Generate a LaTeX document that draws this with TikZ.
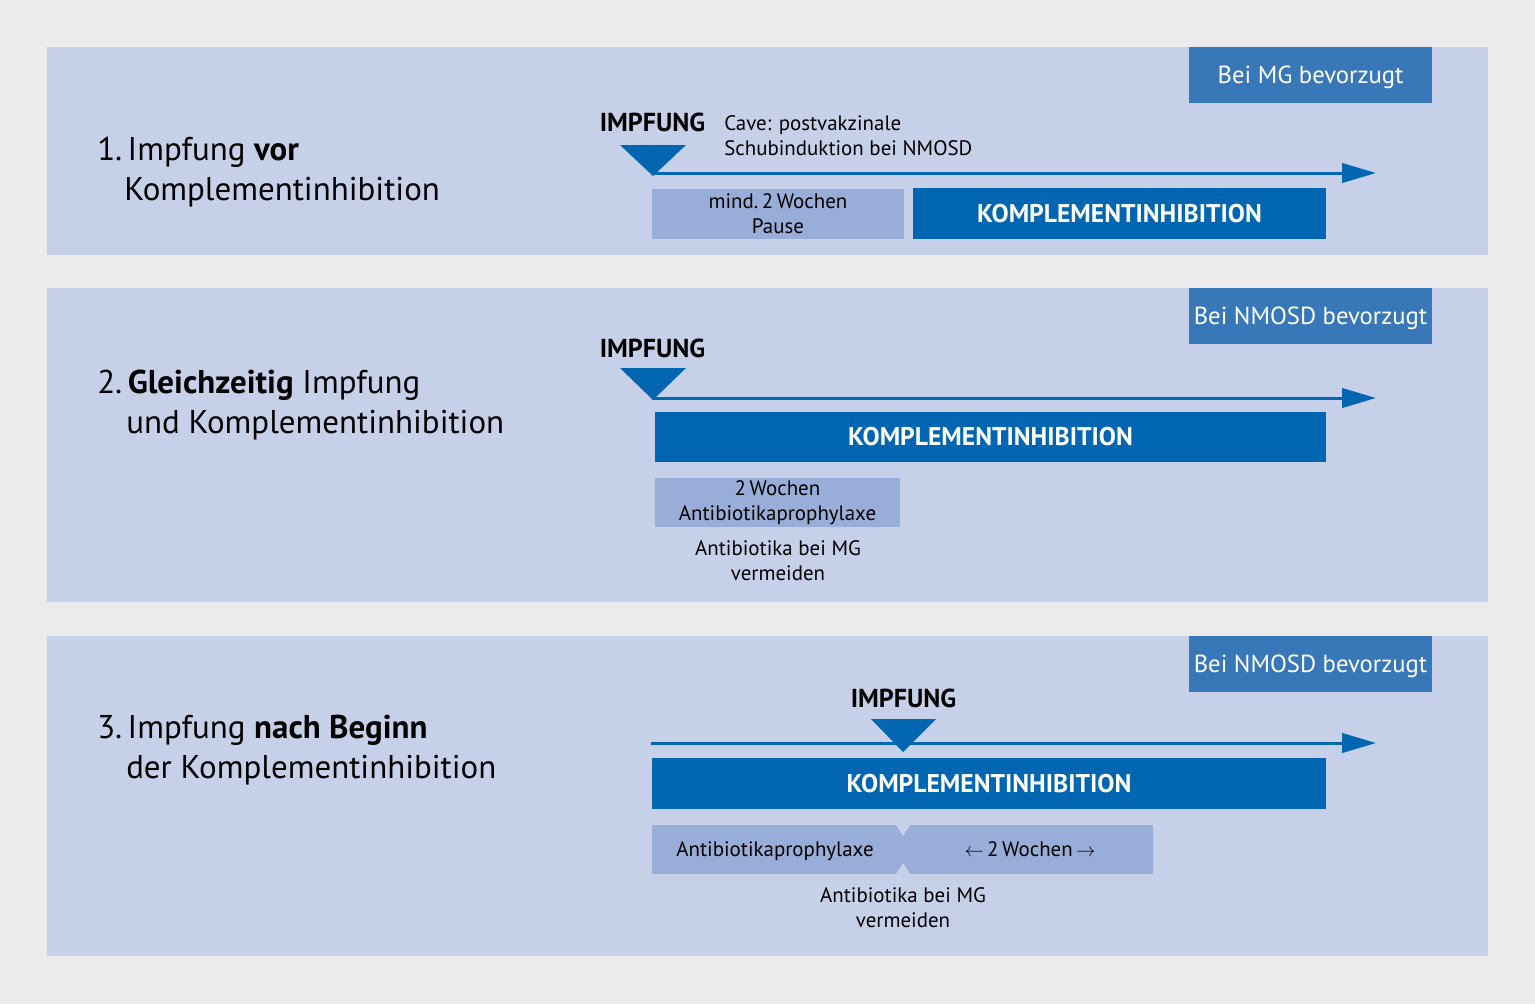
\documentclass[tikz,border=0pt]{standalone}
\usepackage{fontspec}
\setmainfont{PT Sans}
\usetikzlibrary{arrows.meta}
\definecolor{bggray}{HTML}{EBEBEB}
\definecolor{panel}{HTML}{C6D1E9}
\definecolor{lightbox}{HTML}{98AED8}
\definecolor{darkblue}{HTML}{0066B1}
\definecolor{badge}{HTML}{3878B9}
\tikzset{
  panelbox/.style={fill=panel, draw=none},
  badgebox/.style={fill=badge, text=white, minimum width=182.25pt, minimum height=42pt, inner sep=0pt, text depth=0pt, font=\fontsize{18.5}{20}\selectfont},
  darkbox/.style={fill=darkblue, text=white, inner sep=0pt, font=\fontsize{19.2}{20}\selectfont\bfseries},
  lightbx/.style={fill=lightbox, text=black, inner sep=0pt, align=center, font=\fontsize{15.7}{18.75}\selectfont},
  smalltext/.style={text=black, inner sep=0pt, align=center, font=\fontsize{15.7}{18.75}\selectfont},
  impf/.style={text=black, inner sep=0pt, font=\fontsize{19.5}{20}\selectfont\bfseries},
  titletext/.style={text=black, inner sep=0pt, anchor=base west, font=\fontsize{24.7}{30}\selectfont},
  timeline/.style={draw=darkblue, line width=2.25pt, -{Triangle[length=25.5pt,width=14.5pt]}},
  marker/.style={fill=darkblue, draw=none},
}
\begin{document}
\begin{tikzpicture}[x=0.75pt,y=-0.75pt]
\fill[bggray] (0,0) rectangle (1535,1004);
\useasboundingbox (0,0) rectangle (1535,1004);
% panels
\fill[panelbox] (47,47) rectangle (1488,255);
\fill[panelbox] (47,288) rectangle (1488,602);
\fill[panelbox] (47,636) rectangle (1488,956);
% badges
\node[badgebox] (b1) at (1310.5,75) {Bei MG bevorzugt};
\node[badgebox] (b2) at (1310.5,316) {Bei NMOSD bevorzugt};
\node[badgebox] (b3) at (1310.5,664) {Bei NMOSD bevorzugt};
% titles
\node[titletext] (t1a) at (97,160) {1.\,Impfung \textbf{vor}};
\node[titletext] (t1b) at (124,200) {Komplementinhibition};
\node[titletext] (t2a) at (97,393) {2.\,\textbf{Gleichzeitig} Impfung};
\node[titletext] (t2b) at (126,433) {und Komplementinhibition};
\node[titletext] (t3a) at (97,738) {3.\,Impfung \textbf{nach Beginn}};
\node[titletext] (t3b) at (126,778) {der Komplementinhibition};
% panel 1
\node[impf] (i1) at (652.5,122) {IMPFUNG};
\node[smalltext, anchor=west, align=left] (cave) at (724,135.5) {Cave: postvakzinale\\Schubinduktion bei NMOSD};
\coordinate (l1s) at (652,173);
\coordinate (l1e) at (1376,173);
\draw[timeline] (l1s) -- (l1e);
\fill[marker] (620,145) -- (686,145) -- (653,176) -- cycle;
\node[lightbx, minimum width=189pt, minimum height=37.5pt] (p1) at (778,214) {mind.\,2\,Wochen\\Pause};
\node[darkbox, minimum width=309.75pt, minimum height=38.25pt] (k1) at (1119.5,213.5) {KOMPLEMENTINHIBITION};
% panel 2
\node[impf] (i2) at (652.5,348) {IMPFUNG};
\coordinate (l2s) at (652,398);
\coordinate (l2e) at (1376,398);
\draw[timeline] (l2s) -- (l2e);
\fill[marker] (620,368) -- (686,368) -- (653,400) -- cycle;
\node[darkbox, minimum width=503.25pt, minimum height=37.5pt] (k2) at (990.5,437) {KOMPLEMENTINHIBITION};
\node[lightbx, minimum width=183.75pt, minimum height=36.75pt] (a2) at (777.5,502.5) {2\,Wochen\\Antibiotikaprophylaxe};
\node[smalltext] (n2) at (778,560.5) {Antibiotika bei MG\\vermeiden};
% panel 3
\node[impf] (i3) at (903.5,698) {IMPFUNG};
\coordinate (l3s) at (651,743);
\coordinate (l3e) at (1376,743);
\draw[timeline] (l3s) -- (l3e);
\fill[marker] (871,719) -- (936,719) -- (903,752) -- cycle;
\node[darkbox, minimum width=505.5pt, minimum height=38.25pt] (k3) at (989,783.5) {KOMPLEMENTINHIBITION};
\fill[lightbox] (652,825) rectangle (1153,874);
\node[smalltext, text depth=0pt] (a3) at (775,849.5) {Antibiotikaprophylaxe};
\node[smalltext, text depth=0pt] (w3) at (1030,849.5) {$\leftarrow$\,2\,Wochen\,$\rightarrow$};
\fill[panel] (896,825) -- (910,825) -- (903,836) -- cycle;
\fill[panel] (896,874) -- (910,874) -- (903,863) -- cycle;
\node[smalltext] (n3) at (903,907.5) {Antibiotika bei MG\\vermeiden};
\end{tikzpicture}
\end{document}
